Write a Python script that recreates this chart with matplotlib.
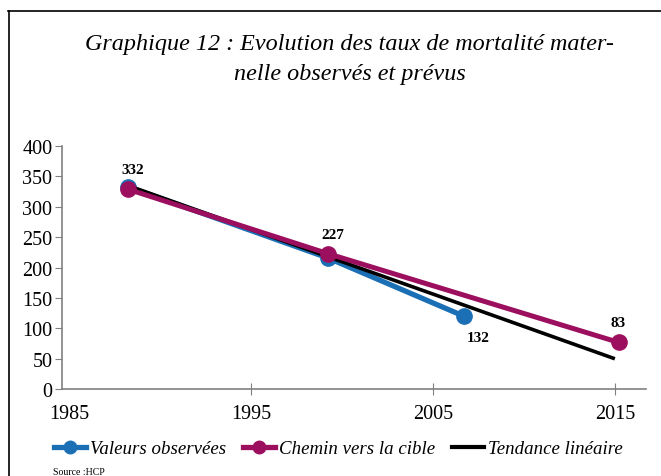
import matplotlib.pyplot as plt
from matplotlib.lines import Line2D

plt.rcParams['font.family'] = ['Liberation Serif', 'DejaVu Serif']

# positions des points
obs_years = [1988.2, 1999.2, 2006.7]
obs_values = [333, 216, 120]

target_years = [1988.2, 1999.2, 2015.2]
target_values = [329, 223, 77]

trend_years = [1988.2, 2015.0]
trend_values = [335, 50]

label_years = [1988.5, 1999.5, 2007.5, 2015.2]
label_values = [332, 227, 132, 83]
label_heights = [362, 255, 85, 110]

xticks = [1985, 1995, 2005, 2015]
yticks = [0, 50, 100, 150, 200, 250, 300, 350, 400]

blue = '#1b6fb5'
purple = '#9c0f5f'

fig = plt.figure(figsize=(6.61, 4.77), dpi=100)
ax = fig.add_axes([0.094, 0.182, 0.883, 0.510])

ax.plot(obs_years, obs_values, color=blue, lw=3.8, marker='o', ms=11,
        solid_capstyle='butt', zorder=3)
ax.plot(trend_years, trend_values, color='black', lw=2.6,
        solid_capstyle='butt', zorder=4)
ax.plot(target_years, target_values, color=purple, lw=3.6, marker='o', ms=11,
        solid_capstyle='butt', zorder=5)

for x, v, h in zip(label_years, label_values, label_heights):
    ax.text(x, h, str(v), ha='center', va='center', fontsize=11,
            fontweight='bold')

ax.set_xlim(1984.6, 2016.7)
ax.set_ylim(0, 400)
ax.set_xticks(xticks)
ax.set_yticks(yticks)
ax.tick_params(axis='y', direction='out', length=5, color='#808080',
               labelsize=14.5, pad=2)
ax.tick_params(axis='x', direction='inout', length=9, color='#808080',
               labelsize=14.5, pad=6)
# pas de trait pour la premiere graduation de l'axe x
first = ax.xaxis.get_major_ticks()[0]
first.tick1line.set_visible(False)
first.tick2line.set_visible(False)
for s in ['top', 'right']:
    ax.spines[s].set_visible(False)
for s in ['left', 'bottom']:
    ax.spines[s].set_color('#808080')
    ax.spines[s].set_linewidth(1.2)

fig.text(0.529, 0.875, 'Graphique 12 : Evolution des taux de mortalité mater-\nnelle observés et prévus',
         ha='center', va='center', fontsize=17.4, style='italic',
         linespacing=1.55)

handles = [
    Line2D([], [], color=blue, lw=3.8, marker='o', ms=9),
    Line2D([], [], color=purple, lw=3.8, marker='o', ms=9),
    Line2D([], [], color='black', lw=3.0),
]
fig.legend(handles, ['Valeurs observées', 'Chemin vers la cible', 'Tendance linéaire'],
           loc='center', bbox_to_anchor=(0.512, 0.057), ncol=3, frameon=False,
           prop={'style': 'italic', 'size': 13.6}, handlelength=1.7,
           handletextpad=0.2, columnspacing=0.9)

fig.text(0.080, 0.001, 'Source :HCP', fontsize=7, ha='left', va='bottom')

# cadre
fig.add_artist(Line2D([0.012, 1.0], [0.975, 0.975], color='black', lw=1.2,
                      transform=fig.transFigure))
fig.add_artist(Line2D([0.0135, 0.0135], [0.0, 0.975], color='black', lw=1.2,
                      transform=fig.transFigure))

fig.savefig('out.png', dpi=100)
